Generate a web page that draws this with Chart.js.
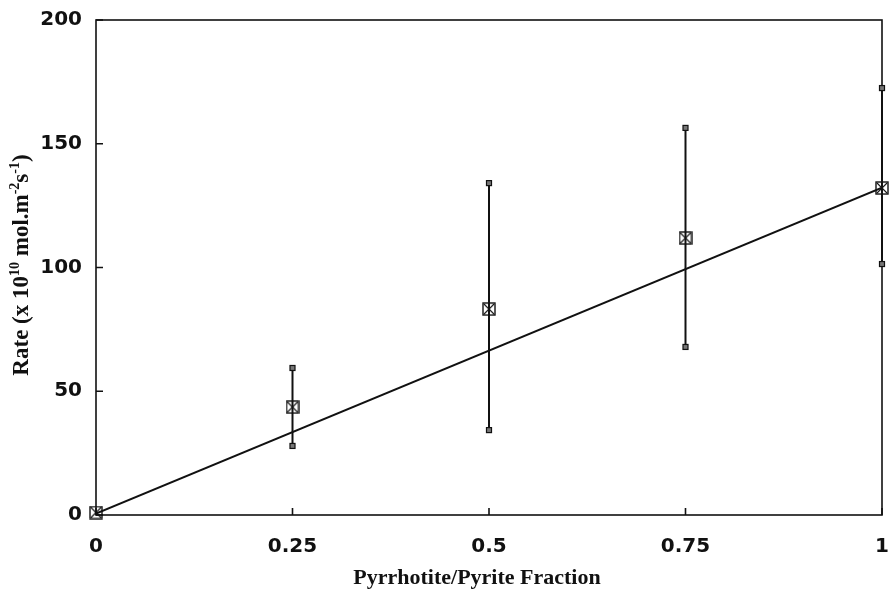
<!DOCTYPE html>
<html>
<head>
<meta charset="utf-8">
<script src="https://cdn.jsdelivr.net/npm/chart.js@4.4.1/dist/chart.umd.min.js"></script>
<style>
  html, body { margin: 0; padding: 0; background: #fff; }
  #wrap { width: 891px; height: 590px; position: relative; }
</style>
</head>
<body>
<div id="wrap"><canvas id="c" width="891" height="590"></canvas></div>
<script>
// Measured rates for each pyrrhotite/pyrite fraction
const fractions = [0, 0.25, 0.5, 0.75, 1];
const rates     = [1, 43.6, 83.2, 111.9, 132.1];
const rateLow   = [null, 27.9, 34.3, 67.9, 101.4];
const rateHigh  = [null, 59.4, 134.1, 156.4, 172.5];

// Linear fit endpoints
const fitX = [0, 1];
const fitY = [0.6, 132.3];

const xTicks = [0, 0.25, 0.5, 0.75, 1];
const xTickLabels = ['0', '0.25', '0.5', '0.75', '1'];
const yTicks = [0, 50, 100, 150, 200];

const xTitle = 'Pyrrhotite/Pyrite Fraction';
// Y axis title pieces: [text, superscript?]
const yTitleParts = [
  ['Rate (x 10', false], ['10', true], [' mol.m', false], ['-2', true],
  ['s', false], ['-1', true], [')', false]
];

// Boxed-cross marker
function makeMarker(size) {
  const c = document.createElement('canvas');
  c.width = size; c.height = size;
  const g = c.getContext('2d');
  g.strokeStyle = '#111';
  g.lineWidth = 1.4;
  g.strokeRect(1, 1, size - 2, size - 2);
  g.lineWidth = 1.1;
  g.beginPath();
  g.moveTo(2, 2); g.lineTo(size - 2, size - 2);
  g.moveTo(size - 2, 2); g.lineTo(2, size - 2);
  g.stroke();
  return c;
}
const marker = makeMarker(14);

// Frame, inward ticks, error bars and axis titles
const framePlugin = {
  id: 'frame',
  beforeDatasetsDraw(chart) {
    const { ctx, chartArea: a, scales } = chart;
    const xs = scales.x, ys = scales.y;
    ctx.save();
    ctx.strokeStyle = '#111';
    ctx.lineWidth = 1.6;
    ctx.strokeRect(a.left, a.top, a.right - a.left, a.bottom - a.top);
    ctx.beginPath();
    yTicks.forEach(v => {
      const y = ys.getPixelForValue(v);
      ctx.moveTo(a.left, y); ctx.lineTo(a.left + 7, y);
    });
    xTicks.forEach(v => {
      const x = xs.getPixelForValue(v);
      ctx.moveTo(x, a.bottom); ctx.lineTo(x, a.bottom - 7);
    });
    ctx.stroke();

    // error bars with small square caps
    ctx.lineWidth = 2;
    fractions.forEach((f, i) => {
      if (rateLow[i] == null) return;
      const x = xs.getPixelForValue(f);
      const yl = ys.getPixelForValue(rateLow[i]);
      const yh = ys.getPixelForValue(rateHigh[i]);
      ctx.beginPath();
      ctx.moveTo(x, yl); ctx.lineTo(x, yh);
      ctx.stroke();
      [yl, yh].forEach(y => {
        ctx.save();
        ctx.lineWidth = 1.2;
        ctx.fillStyle = '#777';
        ctx.fillRect(x - 2.5, y - 2.5, 5, 5);
        ctx.strokeRect(x - 2.5, y - 2.5, 5, 5);
        ctx.restore();
      });
    });

    // x axis title
    ctx.fillStyle = '#111';
    ctx.font = 'bold 22px "Liberation Serif"';
    ctx.textAlign = 'center';
    ctx.textBaseline = 'middle';
    ctx.fillText(xTitle, 477, 578);

    // rotated y axis title with superscripts
    const big = 'bold 23px "Liberation Serif"';
    const small = 'bold 14px "Liberation Serif"';
    ctx.textAlign = 'left';
    ctx.textBaseline = 'alphabetic';
    let total = 0;
    yTitleParts.forEach(([t, sup]) => {
      ctx.font = sup ? small : big;
      total += ctx.measureText(t).width;
    });
    ctx.translate(28, 265);
    ctx.rotate(-Math.PI / 2);
    let px = -total / 2;
    yTitleParts.forEach(([t, sup]) => {
      ctx.font = sup ? small : big;
      ctx.fillText(t, px, sup ? -9 : 0);
      px += ctx.measureText(t).width;
    });
    ctx.restore();
  }
};

new Chart(document.getElementById('c'), {
  type: 'scatter',
  data: {
    datasets: [
      {
        type: 'line',
        data: fitX.map((x, i) => ({ x, y: fitY[i] })),
        borderColor: '#111',
        borderWidth: 2,
        pointRadius: 0,
        fill: false,
        order: 2
      },
      {
        data: fractions.map((x, i) => ({ x, y: rates[i] })),
        pointStyle: marker,
        pointRadius: 7,
        clip: false,
        order: 1
      }
    ]
  },
  plugins: [framePlugin],
  options: {
    responsive: false,
    animation: false,
    layout: { padding: { top: 20, right: 9, left: 0, bottom: 0 } },
    plugins: { legend: { display: false }, tooltip: { enabled: false } },
    scales: {
      x: {
        type: 'linear',
        min: 0, max: 1,
        afterBuildTicks(s) { s.ticks = xTicks.map(v => ({ value: v })); },
        afterFit(s) { s.height = 75; s.paddingLeft = 0; s.paddingRight = 0; },
        grid: { display: false, drawTicks: false },
        border: { display: false },
        ticks: {
          padding: 20,
          color: '#111',
          font: { family: 'DejaVu Sans', size: 20, weight: 'bold' },
          callback: (v) => xTickLabels[xTicks.indexOf(v)]
        }
      },
      y: {
        type: 'linear',
        min: 0, max: 200,
        afterBuildTicks(s) { s.ticks = yTicks.map(v => ({ value: v })); },
        afterFit(s) { s.width = 96; s.paddingTop = 0; s.paddingBottom = 0; },
        grid: { display: false, drawTicks: false },
        border: { display: false },
        ticks: {
          padding: 14,
          color: '#111',
          font: { family: 'DejaVu Sans', size: 20, weight: 'bold' }
        }
      }
    }
  }
});
</script>
</body>
</html>
